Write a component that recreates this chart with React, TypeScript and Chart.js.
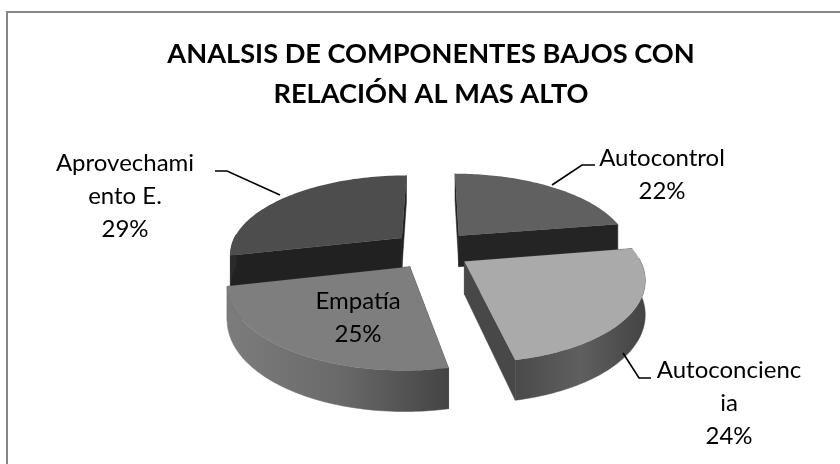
import React, { useEffect, useRef } from "react";
import { Chart, registerables } from "chart.js";

Chart.register(...registerables);

const categories = ["Autocontrol", "Autoconciencia", "Empatía", "Aprovechamiento E."];
const seriesValues = [22.4, 24.4, 24.6, 28.6];
const wrappedNames = [["Autocontrol"], ["Autoconcienc", "ia"], ["Empatía"], ["Aprovechami", "ento E."]];
const titleLines = ["ANALSIS DE COMPONENTES BAJOS CON", "RELACIÓN AL MAS ALTO"];
const topColours = ["#606060", "#aaaaaa", "#7e7e7e", "#4d4d4d"];
const cutColours = ["#242424", "#484848", "#3a3a3a", "#212121"];
const wallStops = [
  ["#303030", "#303030"],
  ["#4a4a4a", "#5f5f5f", "#444444"],
  ["#7c7c7c", "#6a6a6a", "#444444"],
  ["#2a2a2a", "#2a2a2a"],
];
const sliceNudges = [
  [1, 2],
  [-2, 4],
  [-1, 4],
  [-1, 2],
];
const labelCentres = [
  [662, 166],
  [729, 378],
  [358, 309],
  [125, 171],
];
const leaders = [
  [[552, 185], [582, 165], [595, 165]],
  [[623, 353], [639, 378], [651, 378]],
  [],
  [[215, 171], [227, 171], [280, 195]],
];

const FONT = "Lato, Carlito, sans-serif";
const CX = 433, CY = 247, A = 172, B = 78, K = 0.185, EXPLODE = 0.23, DEPTH = 32;

function project(u: number, v: number, drop = 0, nudge = [0, 0]) {
  const s = 1 / (1 - K * v);
  return { x: CX + A * u * s + nudge[0], y: CY + B * v * s + drop * s + nudge[1] };
}

const sliceOrder = [3, 0, 2, 1];

const pie3d = {
  id: "pie3d",
  beforeDraw(chart: any) {
    const { ctx, width, height } = chart;
    ctx.save();
    ctx.fillStyle = "#ffffff";
    ctx.fillRect(0, 0, width, height);
    ctx.strokeStyle = "#868686";
    ctx.lineWidth = 2;
    ctx.beginPath();
    ctx.moveTo(7, height);
    ctx.lineTo(7, 12);
    ctx.lineTo(width, 12);
    ctx.stroke();
    ctx.restore();
  },
  beforeDatasetDraw(chart: any) {
    const { ctx } = chart;
    const meta = chart.getDatasetMeta(0);
    sliceOrder.forEach((i) => {
      const arc = meta.data[i];
      const nudge = sliceNudges[i];
      const a0 = arc.startAngle + Math.PI / 2;
      const a1 = arc.endAngle + Math.PI / 2;
      const mid = (a0 + a1) / 2;
      const ou = EXPLODE * Math.sin(mid);
      const ov = -EXPLODE * Math.cos(mid);
      const n = 72;
      const rim: { u: number; v: number; a: number }[] = [];
      for (let k = 0; k <= n; k++) {
        const a = a0 + ((a1 - a0) * k) / n;
        rim.push({ u: ou + Math.sin(a), v: ov - Math.cos(a), a });
      }
      const polygon = (pts: { x: number; y: number }[], fill: any, edge = true) => {
        ctx.fillStyle = fill;
        ctx.beginPath();
        pts.forEach((p, k) => (k ? ctx.lineTo(p.x, p.y) : ctx.moveTo(p.x, p.y)));
        ctx.closePath();
        ctx.fill();
        if (edge) {
          ctx.strokeStyle = fill;
          ctx.lineWidth = 0.5;
          ctx.stroke();
        }
      };

      // cut faces
      [rim[0], rim[n]].forEach((r) => {
        polygon(
          [
            project(ou, ov, 0, nudge),
            project(r.u, r.v, 0, nudge),
            project(r.u, r.v, DEPTH, nudge),
            project(ou, ov, DEPTH, nudge),
          ],
          cutColours[i]
        );
      });

      // outer wall
      const front = rim.filter((r) => -Math.cos(r.a) > -0.05);
      if (front.length > 1) {
        const upper = front.map((r) => project(r.u, r.v, 0, nudge));
        const lower = front.map((r) => project(r.u, r.v, DEPTH, nudge)).reverse();
        const xs = upper.map((p) => p.x);
        const g = ctx.createLinearGradient(Math.min(...xs), 0, Math.max(...xs), 0);
        wallStops[i].forEach((c, j) => g.addColorStop(j / (wallStops[i].length - 1), c));
        polygon([...upper, ...lower], g);
      }

      // top face
      polygon([project(ou, ov, 0, nudge), ...rim.map((r) => project(r.u, r.v, 0, nudge))], topColours[i], false);
    });
    return false;
  },
  afterDatasetsDraw(chart: any) {
    const { ctx } = chart;
    const total = seriesValues.reduce((a, b) => a + b, 0);
    ctx.save();
    ctx.strokeStyle = "#000000";
    ctx.lineWidth = 1.6;
    leaders.forEach((pts) => {
      if (!pts.length) return;
      ctx.beginPath();
      pts.forEach(([x, y], k) => (k ? ctx.lineTo(x, y) : ctx.moveTo(x, y)));
      ctx.stroke();
    });
    ctx.fillStyle = "#000000";
    ctx.font = `24px ${FONT}`;
    ctx.textAlign = "center";
    ctx.textBaseline = "alphabetic";
    categories.forEach((_, i) => {
      const lines = [...wrappedNames[i], `${Math.round((seriesValues[i] / total) * 100)}%`];
      lines.forEach((t, k) => ctx.fillText(t, labelCentres[i][0], labelCentres[i][1] + k * 33));
    });
    ctx.restore();
  },
};

export default function App() {
  const ref = useRef<HTMLCanvasElement>(null);
  useEffect(() => {
    const chart = new Chart(ref.current!, {
      type: "pie",
      data: { labels: categories, datasets: [{ data: seriesValues, backgroundColor: topColours, borderWidth: 0 }] },
      options: {
        responsive: false,
        animation: false,
        layout: { padding: { left: 22 } },
        plugins: {
          legend: { display: false },
          tooltip: { enabled: false },
          title: {
            display: true,
            text: titleLines,
            color: "#000000",
            fullSize: false,
            font: { family: FONT, size: 27.2, weight: "bold", lineHeight: 1.44 },
            padding: { top: 35, bottom: 10 },
          },
        },
      },
      plugins: [pie3d],
    } as any);
    return () => chart.destroy();
  }, []);
  return <canvas ref={ref} width={840} height={464} style={{ position: "absolute", left: 0, top: 0, display: "block" }} />;
}
